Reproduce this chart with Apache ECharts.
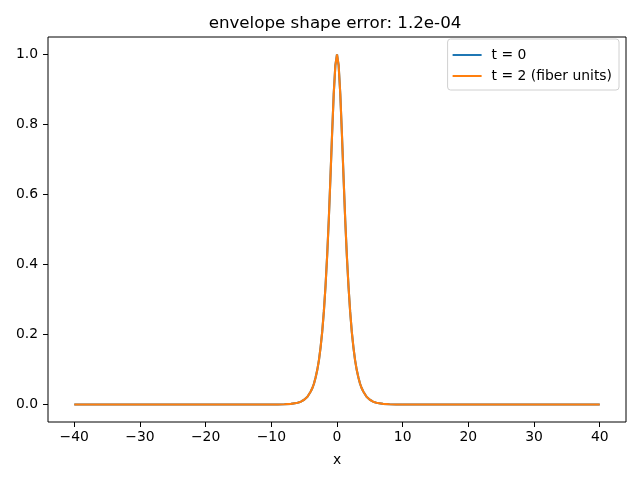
<!DOCTYPE html>
<html>
<head>
<meta charset="utf-8">
<script src="https://cdn.jsdelivr.net/npm/echarts@6/dist/echarts.min.js"></script>
<style>
  html, body { margin: 0; padding: 0; background: #fff; }
  #chart { width: 640px; height: 480px; }
</style>
</head>
<body>
<div id="chart"></div>
<script>
// 包络形状对比：t = 0 与 t = 2（纤维单位）
const xs = [-40, -30, -20, -15, -12, -10, -9, -8, -7, -6, -5.5, -5, -4.5, -4, -3.75, -3.5, -3.25, -3,
  -2.75, -2.5, -2.25, -2, -1.75, -1.5, -1.25, -1, -0.75, -0.5, -0.25, 0,
  0.25, 0.5, 0.75, 1, 1.25, 1.5, 1.75, 2, 2.25, 2.5, 2.75,
  3, 3.25, 3.5, 3.75, 4, 4.5, 5, 5.5, 6, 7, 8, 9, 10, 12, 15, 20, 30, 40];

const env0 = [0, 0, 0, 0, 0, 0.0001, 0.0002, 0.0007, 0.0018, 0.005, 0.008, 0.0135, 0.022, 0.037, 0.047, 0.060, 0.078, 0.099,
  0.127, 0.163, 0.208, 0.266, 0.338, 0.425, 0.528, 0.648, 0.772, 0.887, 0.969, 1.0,
  0.969, 0.887, 0.772, 0.648, 0.528, 0.425, 0.338, 0.266, 0.208, 0.163, 0.127,
  0.099, 0.078, 0.060, 0.047, 0.037, 0.022, 0.0135, 0.008, 0.005, 0.0018, 0.0007, 0.0002, 0.0001, 0, 0, 0, 0, 0];

const env2 = [0, 0, 0, 0, 0, 0.0001, 0.0002, 0.0007, 0.0018, 0.005, 0.008, 0.0135, 0.022, 0.037, 0.047, 0.060, 0.078, 0.099,
  0.127, 0.163, 0.208, 0.266, 0.338, 0.425, 0.528, 0.648, 0.772, 0.887, 0.969, 1.0,
  0.969, 0.887, 0.772, 0.648, 0.528, 0.425, 0.338, 0.266, 0.208, 0.163, 0.127,
  0.099, 0.078, 0.060, 0.047, 0.037, 0.022, 0.0135, 0.008, 0.005, 0.0018, 0.0007, 0.0002, 0.0001, 0, 0, 0, 0, 0];

const xTicks = [-40, -30, -20, -10, 0, 10, 20, 30, 40];
const yTicks = [0, 0.2, 0.4, 0.6, 0.8, 1.0];

const FONT = 'DejaVu Sans';
const chart = echarts.init(document.getElementById('chart'), null, { renderer: 'canvas' });

const toPairs = ys => xs.map((x, i) => [x, ys[i]]);

chart.setOption({
  animation: false,
  backgroundColor: '#fff',
  title: {
    text: 'envelope shape error: 1.2e-04',
    left: 330,
    textAlign: 'center',
    top: 10,
    textStyle: { fontFamily: FONT, fontSize: 16.7, fontWeight: 'normal', color: '#000' }
  },
  legend: {
    orient: 'vertical',
    right: 21,
    top: 39,
    icon: 'rect',
    itemWidth: 29,
    itemHeight: 2,
    itemGap: 7,
    padding: [9, 7, 7, 5],
    borderColor: '#d0d0d0',
    borderWidth: 1,
    borderRadius: 3,
    backgroundColor: 'rgba(255,255,255,0.8)',
    textStyle: { fontFamily: FONT, fontSize: 13.9, color: '#000', padding: [0, 0, 0, 5] },
    data: ['t = 0', 't = 2 (fiber units)']
  },
  grid: {
    left: 48, right: 14, top: 37, bottom: 58,
    show: true, borderColor: '#000', borderWidth: 1, backgroundColor: 'transparent'
  },
  xAxis: {
    type: 'value',
    min: -44, max: 44,
    name: 'x',
    nameLocation: 'middle',
    nameGap: 31,
    nameTextStyle: { fontFamily: FONT, fontSize: 13.9, color: '#000' },
    axisLine: { show: false, onZero: false },
    splitLine: { show: false },
    axisTick: { show: true, length: 5, customValues: xTicks, lineStyle: { color: '#000' } },
    axisLabel: {
      customValues: xTicks,
      margin: 8,
      fontFamily: FONT, fontSize: 13.9, color: '#000',
      formatter: v => (v < 0 ? '\u2212' + Math.abs(v) : String(v))
    }
  },
  yAxis: {
    type: 'value',
    min: -0.05, max: 1.05,
    axisLine: { show: false, onZero: false },
    splitLine: { show: false },
    axisTick: { show: true, length: 5, customValues: yTicks, lineStyle: { color: '#000' } },
    axisLabel: {
      customValues: yTicks,
      margin: 10,
      fontFamily: FONT, fontSize: 13.9, color: '#000',
      formatter: v => v.toFixed(1)
    }
  },
  series: [
    {
      name: 't = 0',
      type: 'line',
      symbol: 'none',
      data: toPairs(env0),
      lineStyle: { width: 2.1, color: '#1f77b4' },
      itemStyle: { color: '#1f77b4' }
    },
    {
      name: 't = 2 (fiber units)',
      type: 'line',
      symbol: 'none',
      data: toPairs(env2),
      lineStyle: { width: 2.1, color: '#ff7f0e' },
      itemStyle: { color: '#ff7f0e' }
    }
  ]
});
</script>
</body>
</html>
